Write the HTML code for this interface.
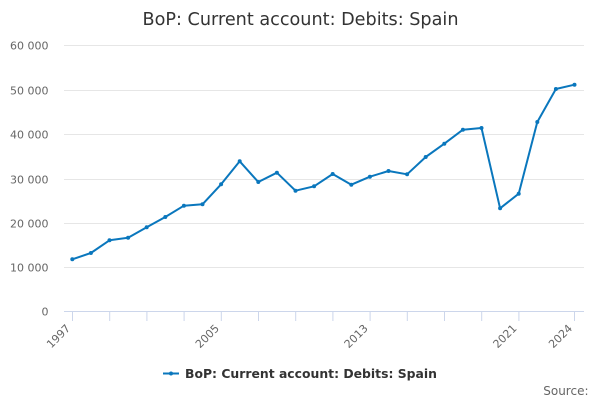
<!DOCTYPE html>
<html>
<head>
<meta charset="utf-8">
<style>
  html,body{margin:0;padding:0;background:#fff;}
  svg{display:block;font-family:"DejaVu Sans","Liberation Sans",sans-serif;}
</style>
</head>
<body>
<svg width="600" height="400" viewBox="0 0 600 400" xmlns="http://www.w3.org/2000/svg">
  <rect width="600" height="400" fill="#fff"/>
  <!-- title -->
  <text x="300.5" y="25" text-anchor="middle" font-size="17.5" fill="#333" textLength="316" lengthAdjust="spacingAndGlyphs">BoP: Current account: Debits: Spain</text>

  <!-- gridlines -->
  <g stroke="#e6e6e6" stroke-width="1">
    <line x1="64" x2="584" y1="45.5" y2="45.5"/>
    <line x1="64" x2="584" y1="90.5" y2="90.5"/>
    <line x1="64" x2="584" y1="134.5" y2="134.5"/>
    <line x1="64" x2="584" y1="179.5" y2="179.5"/>
    <line x1="64" x2="584" y1="223.5" y2="223.5"/>
    <line x1="64" x2="584" y1="267.5" y2="267.5"/>
  </g>
  <!-- y labels -->
  <g font-size="11" fill="#666" text-anchor="end">
    <text x="48.5" y="49.5">60 000</text>
    <text x="48.5" y="94.5">50 000</text>
    <text x="48.5" y="138.5">40 000</text>
    <text x="48.5" y="183.5">30 000</text>
    <text x="48.5" y="227.5">20 000</text>
    <text x="48.5" y="271.5">10 000</text>
    <text x="48.5" y="315.5">0</text>
  </g>

  <!-- x axis -->
  <line x1="64" x2="584" y1="311.5" y2="311.5" stroke="#ccd6eb" stroke-width="1"/>
  <g stroke="#ccd6eb" stroke-width="1">
    <line x1="72.5" x2="72.5" y1="311.5" y2="321"/>
    <line x1="109.7" x2="109.7" y1="311.5" y2="321"/>
    <line x1="146.9" x2="146.9" y1="311.5" y2="321"/>
    <line x1="184.1" x2="184.1" y1="311.5" y2="321"/>
    <line x1="221.3" x2="221.3" y1="311.5" y2="321"/>
    <line x1="258.5" x2="258.5" y1="311.5" y2="321"/>
    <line x1="295.7" x2="295.7" y1="311.5" y2="321"/>
    <line x1="332.9" x2="332.9" y1="311.5" y2="321"/>
    <line x1="370.1" x2="370.1" y1="311.5" y2="321"/>
    <line x1="407.3" x2="407.3" y1="311.5" y2="321"/>
    <line x1="444.5" x2="444.5" y1="311.5" y2="321"/>
    <line x1="481.7" x2="481.7" y1="311.5" y2="321"/>
    <line x1="518.9" x2="518.9" y1="311.5" y2="321"/>
    <line x1="574.5" x2="574.5" y1="311.5" y2="321"/>
  </g>
  <!-- x labels -->
  <g font-size="11" fill="#666" text-anchor="end">
    <text x="71" y="329" transform="rotate(-45 71 329)">1997</text>
    <text x="219.8" y="329" transform="rotate(-45 219.8 329)">2005</text>
    <text x="368.6" y="329" transform="rotate(-45 368.6 329)">2013</text>
    <text x="517.4" y="329" transform="rotate(-45 517.4 329)">2021</text>
    <text x="573" y="329" transform="rotate(-45 573 329)">2024</text>
  </g>

  <!-- series -->
  <polyline fill="none" stroke="#0a77bd" stroke-width="2" stroke-linejoin="round" stroke-linecap="round"
    points="72.3,259.3 90.9,253 109.5,240.3 128.1,237.7 146.7,227.3 165.3,217 183.9,205.7 202.5,204.3 221.1,184.3 239.7,161.3 258.3,182 276.9,172.7 295.5,190.7 314.1,186.3 332.7,174 351.3,184.7 369.9,176.7 388.5,171 407.1,174.3 425.7,157 444.3,143.7 462.9,129.7 481.5,128 500.1,208.3 518.7,193.7 537.3,122 555.9,89 574.5,84.7"/>
  <g fill="#0a77bd">
    <circle cx="72.3" cy="259.3" r="2"/>
    <circle cx="90.9" cy="253" r="2"/>
    <circle cx="109.5" cy="240.3" r="2"/>
    <circle cx="128.1" cy="237.7" r="2"/>
    <circle cx="146.7" cy="227.3" r="2"/>
    <circle cx="165.3" cy="217" r="2"/>
    <circle cx="183.9" cy="205.7" r="2"/>
    <circle cx="202.5" cy="204.3" r="2"/>
    <circle cx="221.1" cy="184.3" r="2"/>
    <circle cx="239.7" cy="161.3" r="2"/>
    <circle cx="258.3" cy="182" r="2"/>
    <circle cx="276.9" cy="172.7" r="2"/>
    <circle cx="295.5" cy="190.7" r="2"/>
    <circle cx="314.1" cy="186.3" r="2"/>
    <circle cx="332.7" cy="174" r="2"/>
    <circle cx="351.3" cy="184.7" r="2"/>
    <circle cx="369.9" cy="176.7" r="2"/>
    <circle cx="388.5" cy="171" r="2"/>
    <circle cx="407.1" cy="174.3" r="2"/>
    <circle cx="425.7" cy="157" r="2"/>
    <circle cx="444.3" cy="143.7" r="2"/>
    <circle cx="462.9" cy="129.7" r="2"/>
    <circle cx="481.5" cy="128" r="2"/>
    <circle cx="500.1" cy="208.3" r="2"/>
    <circle cx="518.7" cy="193.7" r="2"/>
    <circle cx="537.3" cy="122" r="2"/>
    <circle cx="555.9" cy="89" r="2"/>
    <circle cx="574.5" cy="84.7" r="2"/>
  </g>

  <!-- legend -->
  <line x1="163" x2="179" y1="373.5" y2="373.5" stroke="#0a77bd" stroke-width="2"/>
  <circle cx="171" cy="373.5" r="2" fill="#0a77bd"/>
  <text x="185" y="378" font-size="12.3" font-weight="bold" fill="#333" textLength="252" lengthAdjust="spacingAndGlyphs">BoP: Current account: Debits: Spain</text>

  <!-- source -->
  <text x="588.5" y="395" text-anchor="end" font-size="12" fill="#666">Source:</text>
</svg>
</body>
</html>
